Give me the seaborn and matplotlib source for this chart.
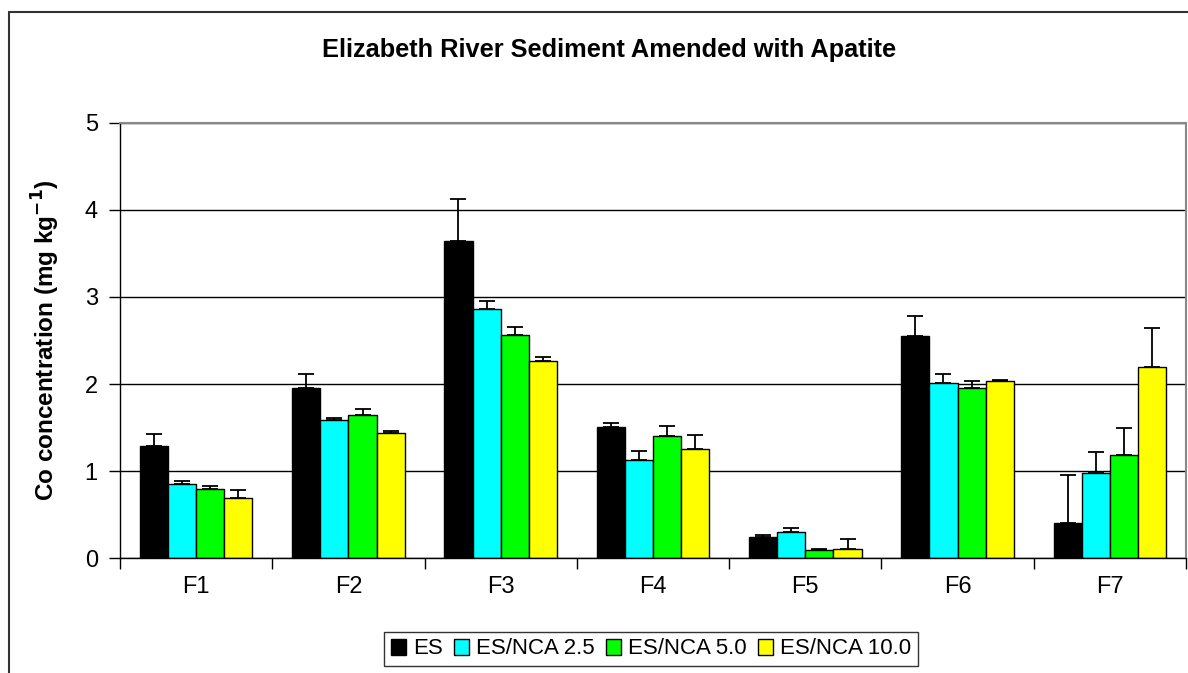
import numpy as np
import pandas as pd
import matplotlib
matplotlib.use("Agg")
import matplotlib.pyplot as plt
from matplotlib.lines import Line2D
import seaborn as sns

categories = ["F1", "F2", "F3", "F4", "F5", "F6", "F7"]
series = ["ES", "ES/NCA 2.5", "ES/NCA 5.0", "ES/NCA 10.0"]
es = [1.29, 1.96, 3.64, 1.51, 0.25, 2.55, 0.41]
nca25 = [0.85, 1.59, 2.86, 1.13, 0.30, 2.01, 0.98]
nca50 = [0.80, 1.65, 2.56, 1.40, 0.09, 1.96, 1.18]
nca100 = [0.69, 1.44, 2.27, 1.26, 0.11, 2.03, 2.20]
es_err = [0.14, 0.16, 0.48, 0.04, 0.02, 0.23, 0.55]
nca25_err = [0.04, 0.02, 0.09, 0.10, 0.05, 0.11, 0.24]
nca50_err = [0.03, 0.06, 0.10, 0.12, 0.02, 0.07, 0.32]
nca100_err = [0.09, 0.02, 0.04, 0.15, 0.11, 0.02, 0.44]
colors = ["#000000", "#00FFFF", "#00FF00", "#FFFF00"]

vals = [es, nca25, nca50, nca100]
errs = [es_err, nca25_err, nca50_err, nca100_err]
rows = []
for s, v, e in zip(series, vals, errs):
    for c, vv, ee in zip(categories, v, e):
        rows.append({"cat": c, "series": s, "value": vv, "err": ee})
df = pd.DataFrame(rows)

sns.set_theme(style="white")
plt.rcParams["font.family"] = ["Liberation Sans", "DejaVu Sans"]
plt.rcParams["text.color"] = "black"
plt.rcParams["axes.labelcolor"] = "black"
plt.rcParams["xtick.color"] = "black"
plt.rcParams["ytick.color"] = "black"

fig = plt.figure(figsize=(11.88, 6.73), dpi=100)
ax = fig.add_axes([120 / 1188, 1 - 558.3 / 673, (1186 - 120) / 1188, (558.3 - 122.7) / 673])

sns.barplot(data=df, x="cat", y="value", hue="series", order=categories,
            hue_order=series, palette=colors, width=0.74, errorbar=None,
            edgecolor="black", linewidth=1.0, saturation=1, ax=ax, legend=True)

# one-sided error bars, positioned from the drawn bars
for container, s in zip(ax.containers, series):
    sub = df[df.series == s].set_index("cat").loc[categories]
    xs = [p.get_x() + p.get_width() / 2 for p in container.patches]
    hs = [p.get_height() for p in container.patches]
    ax.errorbar(xs, hs, yerr=[np.zeros(len(xs)), sub["err"].values],
                fmt="none", ecolor="black", elinewidth=1.3, capsize=6,
                capthick=1.3, zorder=3)

ax.set_ylim(0, 5)
ax.set_xlim(-0.5, len(categories) - 0.5)
ax.set_yticks([0, 1, 2, 3, 4, 5])
ax.yaxis.grid(True, color="black", linewidth=1.0)
ax.set_axisbelow(True)
ax.set_xticks(np.arange(-0.5, len(categories), 1.0), minor=True)
ax.tick_params(axis="x", which="major", length=0, labelsize=17, pad=13, colors="black")
ax.tick_params(axis="x", which="minor", length=8, width=1, direction="out", color="black", bottom=True)
ax.tick_params(axis="y", length=8, width=1, direction="out", left=True, labelsize=17, pad=8, colors="black")
ax.set_xlabel("")
ax.set_ylabel("Co concentration (mg kg$^{\\mathbf{-1}}$)", fontsize=17.5, fontweight="bold",
              labelpad=16, color="black")

for side in ["left", "bottom"]:
    ax.spines[side].set_color("black")
    ax.spines[side].set_linewidth(1.0)
for side in ["top", "right"]:
    ax.spines[side].set_color("#888888")
    ax.spines[side].set_linewidth(1.5)
    ax.spines[side].set_visible(True)

fig.text(609 / 1188, 1 - 50 / 673, "Elizabeth River Sediment Amended with Apatite",
         ha="center", va="center", fontsize=18.3, fontweight="bold", color="black")

handles, labels = ax.get_legend_handles_labels()
ax.legend_.remove()
leg = fig.legend(handles, labels, loc="center", bbox_to_anchor=(651 / 1188, 1 - 649 / 673),
                 ncol=4, frameon=True, fancybox=False, edgecolor="black", fontsize=16,
                 handlelength=0.7, handleheight=0.7, handletextpad=0.3,
                 columnspacing=0.5, borderpad=0.3)
leg.get_frame().set_linewidth(1.0)
for t in leg.get_texts():
    t.set_color("black")

# outer chart border (left and top)
fig.add_artist(Line2D([9 / 1188, 9 / 1188], [0, 1 - 12 / 673], transform=fig.transFigure,
                      color="#333333", linewidth=1.5))
fig.add_artist(Line2D([9 / 1188, 1], [1 - 12 / 673, 1 - 12 / 673], transform=fig.transFigure,
                      color="#333333", linewidth=1.5))

fig.savefig("out.png", dpi=100, facecolor="white")
